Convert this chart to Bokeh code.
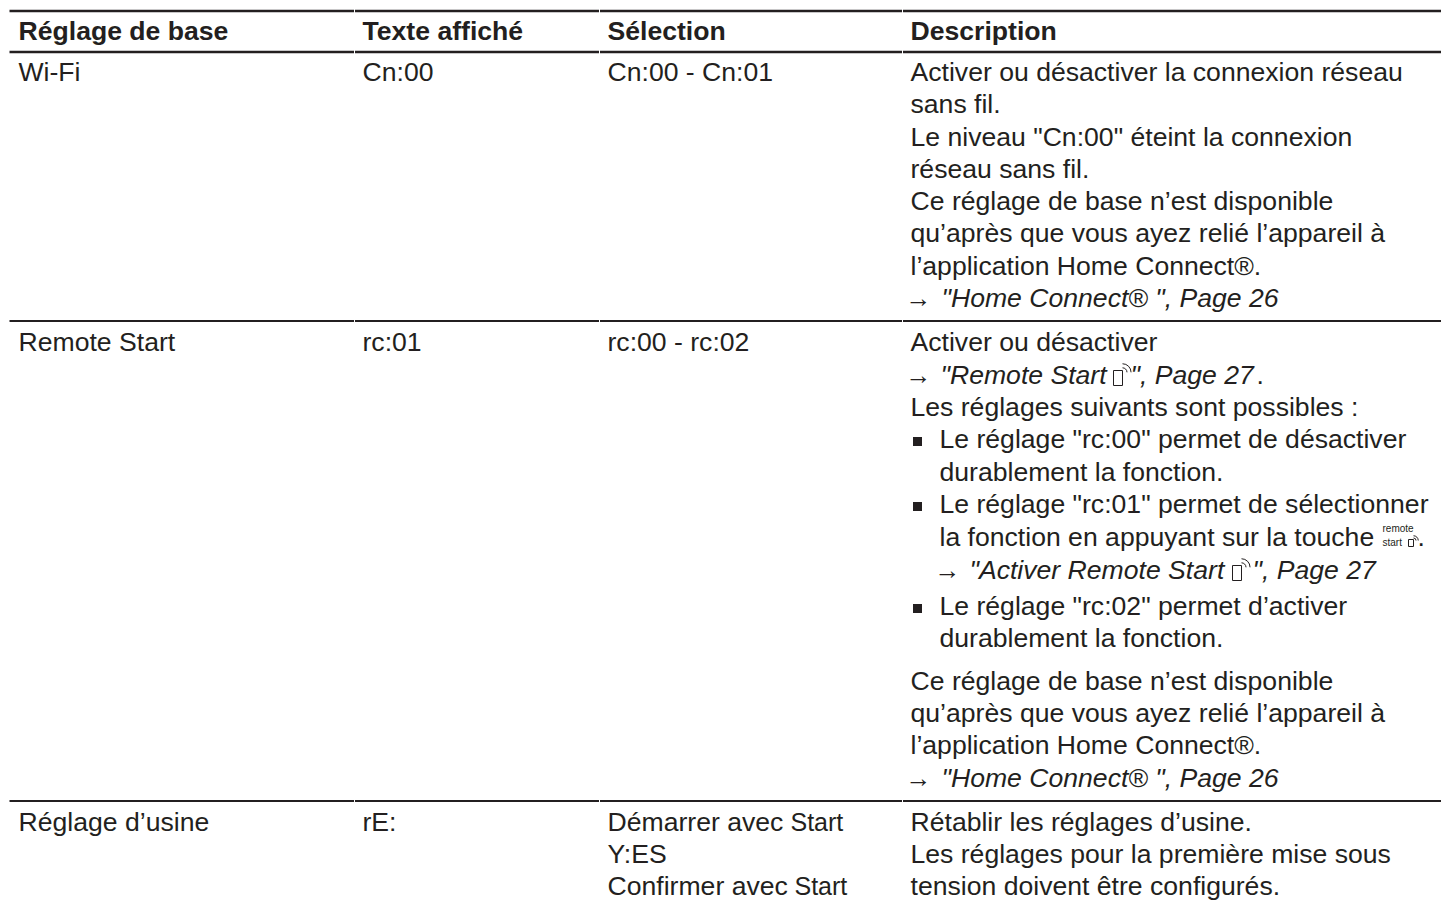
from bokeh.plotting import figure
from bokeh.embed import file_html
from bokeh.resources import INLINE
from bokeh.core.properties import value

FONT = "Liberation Sans"
INK = "#231f20"
SIZE = 26.6
YOFF = -10
XOFF = -1

headers = ["Réglage de base", "Texte affiché", "Sélection", "Description"]
col_x = [19, 363, 608, 911]
rule_x0 = [9, 354.5, 599.5, 902.5]
rule_x1 = [353.5, 598.5, 901.5, 1441]
header_y = 40
rules = [(10.5, 2.4), (51.5, 2.4), (320.5, 1.8), (800.5, 1.8)]

# (x, baseline y, text)
plain = [
    (19, 81, "Wi-Fi"), (363, 81, "Cn:00"), (608, 81, "Cn:00 - Cn:01"),
    (911, 81, "Activer ou désactiver la connexion réseau"),
    (911, 113, "sans fil."),
    (911, 146, 'Le niveau "Cn:00" éteint la connexion'),
    (911, 178, "réseau sans fil."),
    (911, 210, "Ce réglage de base n’est disponible"),
    (911, 242, "qu’après que vous ayez relié l’appareil à"),
    (911, 275, "l’application Home Connect®."),
    (19, 351, "Remote Start"), (363, 351, "rc:01"), (608, 351, "rc:00 - rc:02"),
    (911, 351, "Activer ou désactiver"),
    (911, 416, "Les réglages suivants sont possibles :"),
    (940, 448, 'Le réglage "rc:00" permet de désactiver'),
    (940, 481, "durablement la fonction."),
    (940, 513, 'Le réglage "rc:01" permet de sélectionner'),
    (940, 546, "la fonction en appuyant sur la touche"),
    (940, 615, 'Le réglage "rc:02" permet d’activer'),
    (940, 647, "durablement la fonction."),
    (911, 690, "Ce réglage de base n’est disponible"),
    (911, 722, "qu’après que vous ayez relié l’appareil à"),
    (911, 754, "l’application Home Connect®."),
    (19, 831, "Réglage d’usine"), (363, 831, "rE:"), (608, 831, "Démarrer avec"),
    (608, 863, "Y:ES"), (608, 895, "Confirmer avec"),
    (911, 831, "Rétablir les réglages d’usine."),
    (911, 863, "Les réglages pour la première mise sous"),
    (911, 895, "tension doivent être configurés."),
    (1257, 384, "."), (1418, 546, "."),
]
key_start = [(791, 831, "Start"), (795, 895, "Start")]
italic = [
    (942, 307, "\"Home Connect® \", Page 26"),
    (941, 384, "\"Remote Start"),
    (1131, 384, "\", Page 27"),
    (970, 579, "\"Activer Remote Start"),
    (1253, 579, "\", Page 27"),
    (942, 787, "\"Home Connect® \", Page 26"),
]
arrows = [(906, 307), (906, 384), (935, 579), (906, 787)]
bullets = [(917, 441), (917, 506), (917, 608)]
icon_x = [1113, 1232, 1408]
icon_top = [370, 565, 539]
icon_w = [9, 9, 5]
icon_h = [15, 15, 7]
small = [(1383, 532, "remote"), (1383, 546, "start")]

p = figure(width=1441, height=902, output_backend="svg", toolbar_location=None,
           x_range=(0, 1441), y_range=(902, 0), min_border=0)
p.xaxis.visible = False
p.yaxis.visible = False
p.grid.visible = False
p.outline_line_color = None

for y, w in rules:
    p.segment(rule_x0, [y] * 4, rule_x1, [y] * 4, line_color=INK, line_width=w)


def txt(rows, style="normal", size=SIZE, off=YOFF):
    p.text([r[0] for r in rows], [r[1] for r in rows], [r[2] for r in rows],
           text_font=value(FONT), text_font_size=f"{size}px", text_font_style=style,
           text_color=INK, text_baseline="alphabetic", text_align="left",
           x_offset=XOFF, y_offset=off)


txt([(x, header_y, h) for x, h in zip(col_x, headers)], "bold")
txt(plain)
txt(key_start, size=25)
txt(italic, "italic")
txt(small, size=10, off=-4)
txt([(x, y, "→") for x, y in arrows], size=26, off=-10)
p.scatter([b[0] for b in bullets], [b[1] for b in bullets], marker="square", size=9,
          fill_color=INK, line_color=None)
p.quad(left=icon_x, right=[x + w for x, w in zip(icon_x, icon_w)],
       top=icon_top, bottom=[t + h for t, h in zip(icon_top, icon_h)],
       fill_color=None, line_color=INK, line_width=1)
for x, t, w in zip(icon_x, icon_top, icon_w):
    cx, cy = x + w, t + w * 0.2
    for r in ([w * 0.5, w * 0.95]):
        p.arc([cx], [cy], radius=r, start_angle=0.0, end_angle=1.57, line_color=INK, line_width=1)

open("out.html", "w").write(file_html(p, INLINE))
